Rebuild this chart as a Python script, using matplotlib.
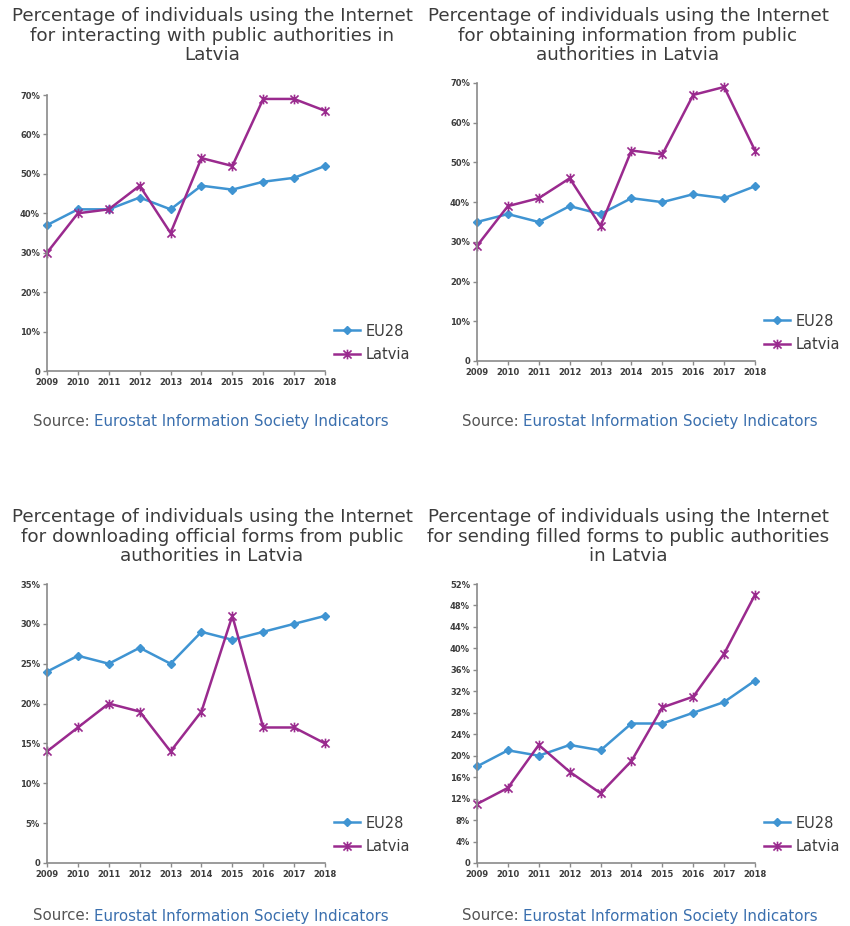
import matplotlib
matplotlib.use("Agg")
import matplotlib.pyplot as plt
from matplotlib.path import Path
from matplotlib.ticker import FuncFormatter

years = [2009, 2010, 2011, 2012, 2013, 2014, 2015, 2016, 2017, 2018]

# interacting with public authorities
eu_interact = [37, 41, 41, 44, 41, 47, 46, 48, 49, 52]
lv_interact = [30, 40, 41, 47, 35, 54, 52, 69, 69, 66]
# obtaining information
eu_info = [35, 37, 35, 39, 37, 41, 40, 42, 41, 44]
lv_info = [29, 39, 41, 46, 34, 53, 52, 67, 69, 53]
# downloading official forms
eu_download = [24, 26, 25, 27, 25, 29, 28, 29, 30, 31]
lv_download = [14, 17, 20, 19, 14, 19, 31, 17, 17, 15]
# sending filled forms
eu_send = [18, 21, 20, 22, 21, 26, 26, 28, 30, 34]
lv_send = [11, 14, 22, 17, 13, 19, 29, 31, 39, 50]

titles = [
    "Percentage of individuals using the Internet\nfor interacting with public authorities in\nLatvia",
    "Percentage of individuals using the Internet\nfor obtaining information from public\nauthorities in Latvia",
    "Percentage of individuals using the Internet\nfor downloading official forms from public\nauthorities in Latvia",
    "Percentage of individuals using the Internet\nfor sending filled forms to public authorities\nin Latvia",
]
y_ticks = [range(0, 71, 10), range(0, 71, 10), range(0, 36, 5), range(0, 53, 4)]

EU_COL = "#3f94d2"
LV_COL = "#9a2a8e"
TXT = "#3c3c3c"
SRC_BLUE = "#3a6fae"

# excel style star marker: x with a vertical bar
star = Path([(-1, -1), (1, 1), (-1, 1), (1, -1), (0, -1.2), (0, 1.2)],
            [Path.MOVETO, Path.LINETO, Path.MOVETO, Path.LINETO, Path.MOVETO, Path.LINETO])

W, H = 850, 926
fig = plt.figure(figsize=(W / 100, H / 100), dpi=100)

# panel boxes in pixels: left, top, right, bottom of plot area
boxes = [(47, 95, 325, 371), (477, 83, 755, 361), (47, 584, 325, 863), (477, 584, 755, 863)]
title_pos = [(212, 7), (628, 7), (212, 508), (628, 508)]
src_pos = [(211, 421), (640, 421), (211, 916), (640, 916)]
series = [(eu_interact, lv_interact), (eu_info, lv_info),
          (eu_download, lv_download), (eu_send, lv_send)]

pct = FuncFormatter(lambda v, p: "0" if v == 0 else "%d%%" % v)
SRC_FS = 10.8

for i in range(4):
    l, t, r, b = boxes[i]
    ax = fig.add_axes([l / W, 1 - b / H, (r - l) / W, (b - t) / H])
    eu, lv = series[i]
    ax.plot(years, eu, color=EU_COL, lw=1.8, marker="D", ms=4.5, label="EU28")
    ax.plot(years, lv, color=LV_COL, lw=1.8, marker=star, ms=7, mew=1.2,
            mfc="none", label="Latvia")
    ax.set_xlim(2009, 2018)
    ax.set_ylim(0, max(y_ticks[i]))
    ax.set_yticks(list(y_ticks[i]))
    ax.set_xticks(years)
    ax.yaxis.set_major_formatter(pct)
    for s in ["top", "right"]:
        ax.spines[s].set_visible(False)
    for s in ["left", "bottom"]:
        ax.spines[s].set_color("#8a8a8a")
        ax.spines[s].set_linewidth(1.2)
    ax.tick_params(axis="both", labelsize=6, colors="#8a8a8a", labelcolor=TXT,
                   length=3, width=1, pad=2)
    for lab in ax.get_xticklabels() + ax.get_yticklabels():
        lab.set_fontweight("bold")
    for ln in ax.lines:
        ln.set_clip_on(False)
    ax.legend(loc="lower left", bbox_to_anchor=(1.0, 0.0), frameon=False,
              fontsize=10.5, handlelength=1.8, handletextpad=0.4, labelspacing=0.6,
              labelcolor=TXT, borderaxespad=0.2)

    tx, ty = title_pos[i]
    fig.text(tx / W, 1 - ty / H, titles[i], ha="center", va="top", fontsize=13.2,
             color=TXT, linespacing=1.12)
    sx, sy = src_pos[i]
    t1 = fig.text(sx / W, 1 - sy / H, "Source: ", ha="left", va="center",
                  fontsize=SRC_FS, color="#555555")
    full = "Source: Eurostat Information Society Indicators"
    # place the two parts side by side, centered as a whole
    rend = fig.canvas.get_renderer()
    tmp = fig.text(0, 0, full, fontsize=SRC_FS)
    w_all = tmp.get_window_extent(rend).width
    tmp.remove()
    w_src = t1.get_window_extent(rend).width
    x0 = sx - w_all / 2
    t1.set_x(x0 / W)
    fig.text((x0 + w_src) / W, 1 - sy / H, "Eurostat Information Society Indicators",
             ha="left", va="center", fontsize=SRC_FS, color=SRC_BLUE)

fig.savefig("out.png", dpi=100, facecolor="white")
